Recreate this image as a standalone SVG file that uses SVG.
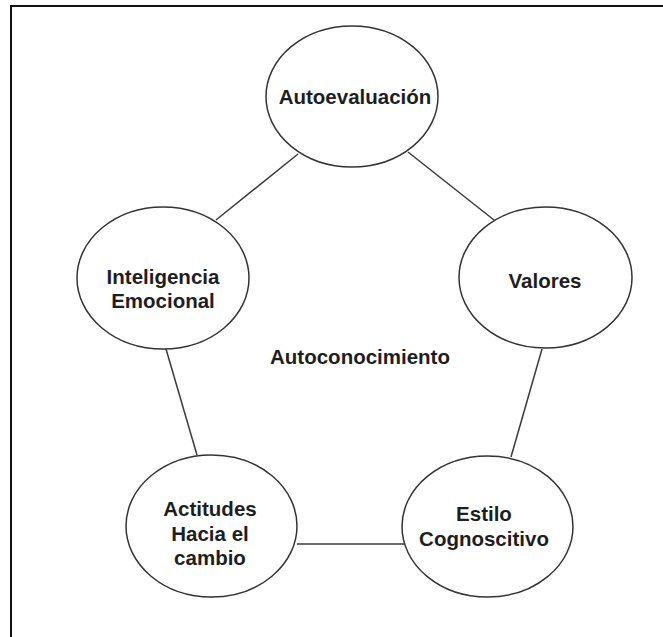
<svg xmlns="http://www.w3.org/2000/svg" width="663" height="637" viewBox="0 0 663 637">
  <style>
    .node ellipse { fill: #ffffff; stroke: #333333; stroke-width: 1.5; }
    .lbl { font-family: "Liberation Sans", Arial, sans-serif; font-weight: bold; font-size: 20.5px; fill: #1e1e1e; text-anchor: middle; dominant-baseline: central; }
    .conn line { stroke: #3a3a3a; stroke-width: 1.5; }
  </style>
  <rect x="0" y="0" width="663" height="637" fill="#ffffff"/>
  <path d="M11,637 V6 H663" fill="none" stroke="#111111" stroke-width="2"/>
  <g id="connectors" class="conn">
    <line x1="298" y1="154" x2="216" y2="220"/>
    <line x1="408" y1="152" x2="494" y2="220"/>
    <line x1="166" y1="349" x2="197" y2="455"/>
    <line x1="542" y1="349" x2="511" y2="457"/>
    <line x1="297" y1="544" x2="405" y2="544"/>
  </g>
  <g id="autoevaluacion" class="node">
    <ellipse cx="352" cy="96.5" rx="86" ry="70.5"/>
    <text class="lbl" x="355" y="96">Autoevaluación</text>
  </g>
  <g id="inteligencia" class="node">
    <ellipse cx="163" cy="278" rx="86" ry="71"/>
    <text class="lbl" x="163" y="276">Inteligencia</text>
    <text class="lbl" x="163" y="300">Emocional</text>
  </g>
  <g id="valores" class="node">
    <ellipse cx="545.5" cy="277.5" rx="86.5" ry="70.5"/>
    <text class="lbl" x="545" y="280">Valores</text>
  </g>
  <g id="actitudes" class="node">
    <ellipse cx="211.5" cy="526" rx="85.5" ry="71"/>
    <text class="lbl" x="210" y="508">Actitudes</text>
    <text class="lbl" x="210" y="533">Hacia el</text>
    <text class="lbl" x="210" y="557">cambio</text>
  </g>
  <g id="estilo" class="node">
    <ellipse cx="487.5" cy="526.5" rx="85.5" ry="70.5"/>
    <text class="lbl" x="484" y="513">Estilo</text>
    <text class="lbl" x="484" y="538">Cognoscitivo</text>
  </g>
  <g id="autoconocimiento">
    <text class="lbl" x="360" y="356">Autoconocimiento</text>
  </g>
</svg>
